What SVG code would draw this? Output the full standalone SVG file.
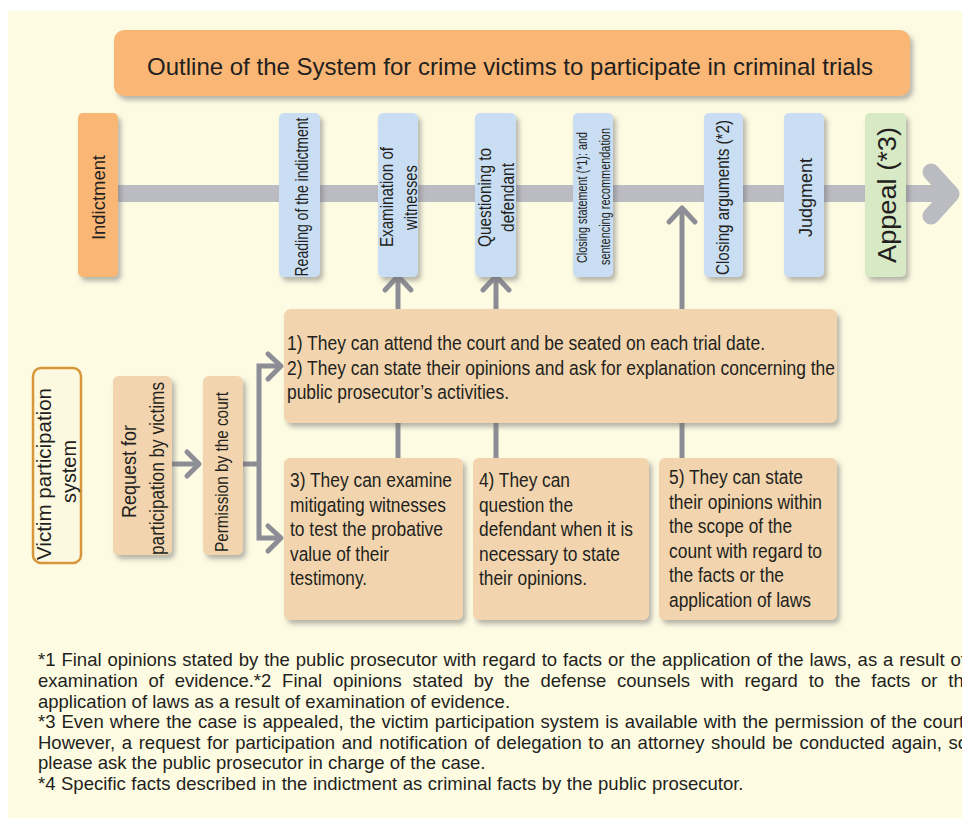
<svg xmlns="http://www.w3.org/2000/svg" width="962" height="818" viewBox="0 0 962 818">
<style>
.t{font-family:"Liberation Sans",Arial,sans-serif;fill:#231f20}
.bl{fill:#c9def3}
.tan{fill:#f2d5ae}
.or{fill:#f9b674}
.gr{fill:#d8e9c5}
.cn{fill:none;stroke:#8d8d95;stroke-width:5;stroke-linecap:round;stroke-linejoin:round}
.ln{fill:none;stroke:#8d8d95;stroke-width:5}
</style>
<defs>
<filter id="sh" x="-20%" y="-10%" width="150%" height="130%">
<feDropShadow dx="3" dy="4" stdDeviation="2.5" flood-color="#6e6e6e" flood-opacity="0.5"/>
</filter>
</defs>
<rect x="8" y="11" width="954" height="807" fill="#fdfbe2"/>

<g id="title">
<rect x="114" y="30" width="796" height="66" rx="10" class="or" filter="url(#sh)"/>
<text class="t" x="510" y="75" font-size="24.5" text-anchor="middle" textLength="726" lengthAdjust="spacingAndGlyphs">Outline of the System for crime victims to participate in criminal trials</text>
</g>

<g id="connectors">
<line x1="118" y1="193.5" x2="948" y2="193.5" stroke="#bbbbc2" stroke-width="17"/>
<polyline points="931,172 951,194 931,216" fill="none" stroke="#bbbbc2" stroke-width="17" stroke-linecap="round" stroke-linejoin="round"/>
<line x1="398" y1="277" x2="398" y2="309" class="ln"/>
<polyline points="385,290 398,276 411,290" class="cn"/>
<line x1="496" y1="277" x2="496" y2="309" class="ln"/>
<polyline points="483,290 496,276 509,290" class="cn"/>
<line x1="682" y1="210" x2="682" y2="309" class="ln"/>
<polyline points="669,222 682,208 695,222" class="cn"/>
<line x1="398" y1="423" x2="398" y2="458" class="ln"/>
<line x1="496" y1="423" x2="496" y2="458" class="ln"/>
<line x1="682" y1="423" x2="682" y2="458" class="ln"/>
<line x1="172" y1="464" x2="198" y2="464" class="ln"/>
<polyline points="187,452 199,464 187,476" class="cn"/>
<line x1="243" y1="464" x2="259" y2="464" class="ln"/>
<polyline points="279,366 259,366 259,538 279,538" class="ln" stroke-linejoin="miter"/>
<polyline points="268,354 281,366 268,379" class="cn"/>
<polyline points="268,526 281,538 268,551" class="cn"/>
</g>

<g id="indictment">
<rect x="78" y="113" width="40" height="164" rx="5" class="or" filter="url(#sh)"/>
<text class="t" transform="translate(105,197.5) rotate(-90)" font-size="18" text-anchor="middle" textLength="85" lengthAdjust="spacingAndGlyphs">Indictment</text>
</g>

<g id="reading">
<rect x="279" y="113" width="41" height="164" rx="5" class="bl" filter="url(#sh)"/>
<text class="t" transform="translate(308,197) rotate(-90)" font-size="18" text-anchor="middle" textLength="159" lengthAdjust="spacingAndGlyphs">Reading of the indictment</text>
</g>

<g id="examination">
<rect x="378" y="113" width="40" height="164" rx="5" class="bl" filter="url(#sh)"/>
<text class="t" transform="translate(393,197) rotate(-90)" font-size="18" text-anchor="middle" textLength="100" lengthAdjust="spacingAndGlyphs">Examination of</text>
<text class="t" transform="translate(417,197.5) rotate(-90)" font-size="18" text-anchor="middle" textLength="65" lengthAdjust="spacingAndGlyphs">witnesses</text>
</g>

<g id="questioning">
<rect x="475" y="113" width="41" height="164" rx="5" class="bl" filter="url(#sh)"/>
<text class="t" transform="translate(491,197.5) rotate(-90)" font-size="18" text-anchor="middle" textLength="99" lengthAdjust="spacingAndGlyphs">Questioning to</text>
<text class="t" transform="translate(514,197.5) rotate(-90)" font-size="18" text-anchor="middle" textLength="69" lengthAdjust="spacingAndGlyphs">defendant</text>
</g>

<g id="closing-statement">
<rect x="573" y="113" width="40" height="164" rx="5" class="bl" filter="url(#sh)"/>
<text class="t" transform="translate(587,197.5) rotate(-90)" font-size="14.5" text-anchor="middle" textLength="131" lengthAdjust="spacingAndGlyphs">Closing statement (*1): and</text>
<text class="t" transform="translate(610,196.5) rotate(-90)" font-size="14.5" text-anchor="middle" textLength="137" lengthAdjust="spacingAndGlyphs">sentencing recommendation</text>
</g>

<g id="closing-arguments">
<rect x="704" y="113" width="39" height="164" rx="5" class="bl" filter="url(#sh)"/>
<text class="t" transform="translate(729,197.5) rotate(-90)" font-size="18" text-anchor="middle" textLength="155" lengthAdjust="spacingAndGlyphs">Closing arguments (*2)</text>
</g>

<g id="judgment">
<rect x="784" y="113" width="40" height="164" rx="5" class="bl" filter="url(#sh)"/>
<text class="t" transform="translate(812,197.5) rotate(-90)" font-size="18" text-anchor="middle" textLength="79" lengthAdjust="spacingAndGlyphs">Judgment</text>
</g>

<g id="appeal">
<rect x="865" y="113" width="41" height="164" rx="5" class="gr" filter="url(#sh)"/>
<text class="t" transform="translate(896,195) rotate(-90)" font-size="26" text-anchor="middle" textLength="136" lengthAdjust="spacingAndGlyphs">Appeal (*3)</text>
</g>

<g id="rights-1-2">
<rect x="284" y="309" width="553" height="114" rx="7" class="tan" filter="url(#sh)"/>
<text class="t" font-size="20.5">
<tspan x="287" y="350" textLength="478" lengthAdjust="spacingAndGlyphs">1) They can attend the court and be seated on each trial date.</tspan>
<tspan x="287" y="375" textLength="548" lengthAdjust="spacingAndGlyphs">2) They can state their opinions and ask for explanation concerning the</tspan>
<tspan x="287" y="399" textLength="222" lengthAdjust="spacingAndGlyphs">public prosecutor’s activities.</tspan>
</text>
</g>

<g id="right-3">
<rect x="284" y="458" width="179" height="162" rx="6" class="tan" filter="url(#sh)"/>
<text class="t" font-size="20.5">
<tspan x="290" y="487" textLength="162" lengthAdjust="spacingAndGlyphs">3) They can examine</tspan>
<tspan x="290" y="511.5" textLength="156" lengthAdjust="spacingAndGlyphs">mitigating witnesses</tspan>
<tspan x="290" y="536" textLength="153" lengthAdjust="spacingAndGlyphs">to test the probative</tspan>
<tspan x="290" y="560.5" textLength="99" lengthAdjust="spacingAndGlyphs">value of their</tspan>
<tspan x="290" y="585" textLength="77" lengthAdjust="spacingAndGlyphs">testimony.</tspan>
</text>
</g>

<g id="right-4">
<rect x="473" y="458" width="176" height="162" rx="6" class="tan" filter="url(#sh)"/>
<text class="t" font-size="20.5">
<tspan x="479" y="487" textLength="91" lengthAdjust="spacingAndGlyphs">4) They can</tspan>
<tspan x="479" y="511.5" textLength="94" lengthAdjust="spacingAndGlyphs">question the</tspan>
<tspan x="479" y="536" textLength="154" lengthAdjust="spacingAndGlyphs">defendant when it is</tspan>
<tspan x="479" y="560.5" textLength="141" lengthAdjust="spacingAndGlyphs">necessary to state</tspan>
<tspan x="479" y="585" textLength="108" lengthAdjust="spacingAndGlyphs">their opinions.</tspan>
</text>
</g>

<g id="right-5">
<rect x="659" y="458" width="178" height="162" rx="6" class="tan" filter="url(#sh)"/>
<text class="t" font-size="20.5">
<tspan x="669" y="484" textLength="134" lengthAdjust="spacingAndGlyphs">5) They can state</tspan>
<tspan x="669" y="508.5" textLength="153" lengthAdjust="spacingAndGlyphs">their opinions within</tspan>
<tspan x="669" y="533" textLength="123" lengthAdjust="spacingAndGlyphs">the scope of the</tspan>
<tspan x="669" y="557.5" textLength="153" lengthAdjust="spacingAndGlyphs">count with regard to</tspan>
<tspan x="669" y="582" textLength="115" lengthAdjust="spacingAndGlyphs">the facts or the</tspan>
<tspan x="669" y="606.5" textLength="142" lengthAdjust="spacingAndGlyphs">application of laws</tspan>
</text>
</g>

<g id="victim-system">
<rect x="33" y="368" width="48" height="195" rx="8" fill="#fdf9e1" stroke="#d8963a" stroke-width="2.5"/>
<text class="t" transform="translate(51,474) rotate(-90)" font-size="21" text-anchor="middle" textLength="172" lengthAdjust="spacingAndGlyphs">Victim participation</text>
<text class="t" transform="translate(76,471.5) rotate(-90)" font-size="21" text-anchor="middle" textLength="63" lengthAdjust="spacingAndGlyphs">system</text>
</g>

<g id="request">
<rect x="113" y="376" width="59" height="179" rx="6" class="tan" filter="url(#sh)"/>
<text class="t" transform="translate(136,471.5) rotate(-90)" font-size="20" text-anchor="middle" textLength="93" lengthAdjust="spacingAndGlyphs">Request for</text>
<text class="t" transform="translate(164,468.5) rotate(-90)" font-size="20" text-anchor="middle" textLength="173" lengthAdjust="spacingAndGlyphs">participation by victims</text>
</g>

<g id="permission">
<rect x="203" y="376" width="40" height="179" rx="6" class="tan" filter="url(#sh)"/>
<text class="t" transform="translate(228,472) rotate(-90)" font-size="18" text-anchor="middle" textLength="160" lengthAdjust="spacingAndGlyphs">Permission by the court</text>
</g>

<g id="footnotes">
<text class="t" font-size="18.5">
<tspan x="38" y="666" word-spacing="0.8">*1 Final opinions stated by the public prosecutor with regard to facts or the application of the laws, as a result of</tspan>
<tspan x="38" y="687" word-spacing="5.6">examination of evidence.*2 Final opinions stated by the defense counsels with regard to the facts or the</tspan>
<tspan x="38" y="708">application of laws as a result of examination of evidence.</tspan>
<tspan x="38" y="728" word-spacing="0.9">*3 Even where the case is appealed, the victim participation system is available with the permission of the court.</tspan>
<tspan x="38" y="749" word-spacing="1.5">However, a request for participation and notification of delegation to an attorney should be conducted again, so</tspan>
<tspan x="38" y="769">please ask the public prosecutor in charge of the case.</tspan>
<tspan x="38" y="790" word-spacing="0.4">*4 Specific facts described in the indictment as criminal facts by the public prosecutor.</tspan>
</text>
</g>
</svg>
